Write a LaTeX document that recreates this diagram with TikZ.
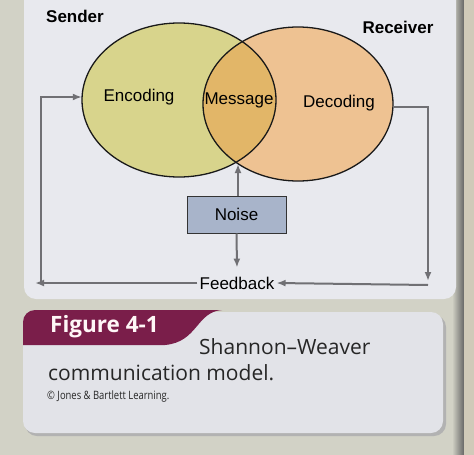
\documentclass[tikz,border=0pt]{standalone}
\usepackage{fontspec}
\setmainfont{Liberation Sans}
\newfontfamily\capfont{Open Sans}
\usetikzlibrary{shapes.geometric,positioning,arrows.meta}

\definecolor{sendfill}{RGB}{216,212,140}
\definecolor{recvfill}{RGB}{238,194,146}
\definecolor{msgfill}{RGB}{226,182,104}
\definecolor{noisefill}{RGB}{168,180,202}
\definecolor{arrowgray}{RGB}{112,112,116}
\definecolor{panelbg}{RGB}{232,233,238}
\definecolor{pagebg}{RGB}{210,210,198}
\definecolor{capbg}{RGB}{226,227,232}
\definecolor{tabred}{RGB}{122,30,74}

\tikzset{
  sendcirc/.style={ellipse,fill=sendfill,minimum width=194pt,minimum height=154pt,inner sep=0pt},
  recvcirc/.style={ellipse,fill=recvfill,minimum width=190pt,minimum height=154pt,inner sep=0pt},
  lbl/.style={font=\fontsize{17}{20}\selectfont},
  hdr/.style={font=\fontsize{17}{20}\selectfont\bfseries},
  loop/.style={draw=arrowgray,line width=2pt,->},
  outline/.style={draw=black!90,line width=1.3pt},
  capt/.style={font=\capfont\fontsize{21}{24}\selectfont,text=black!85,anchor=west,inner sep=0pt},
}

\begin{document}
\begin{tikzpicture}[>={Latex[length=9pt,width=7pt]},x=1pt,y=-1pt]
\useasboundingbox (0,0) rectangle (474,455);
% page and panel
\fill[pagebg] (0,0) rectangle (474,455);
\shade[left color=pagebg,right color=black!60] (452,0) rectangle (464,455);
\fill[pagebg!90!brown] (464,0) rectangle (474,455);
\fill[panelbg,rounded corners=12pt] (24,-12) rectangle (456,299);

% the two fields of experience
\node[sendcirc] (send) at (179,100) {};
\node[recvcirc] (recv) at (298,104) {};
\begin{scope}
  \clip (179,100) ellipse [x radius=97,y radius=77];
  \fill[msgfill] (298,104) ellipse [x radius=95,y radius=77];
\end{scope}
\draw[outline] (179,100) ellipse [x radius=97,y radius=77];
\draw[outline] (298,104) ellipse [x radius=95,y radius=77];

\node[hdr] (sender) at (75,16) {Sender};
\node[hdr] (receiver) at (398,27) {Receiver};
\node[lbl] (enc) at (139,97) {Encoding};
\node[lbl] (msg) at (239,100) {Message};
\node[lbl] (dec) at (339,103) {Decoding};

\node[lbl,draw=black!80,line width=1pt,fill=noisefill,minimum width=99pt,minimum height=37pt] (noise) at (236.5,214.5) {Noise};
\node[lbl,inner sep=2pt] (fb) at (237,283) {Feedback};

\coordinate (bot) at (238,164);
\coordinate (fbl) at (41,284);
\coordinate (encl) at (41,97);
\coordinate (decr) at (428,107);
\coordinate (fbr) at (428,285);

% connectors
\draw[loop] (noise.north -| bot) -- (bot);
\draw[loop] (noise.south) -- ([yshift=7pt]fb.north);
\draw[loop] (fb.west) -- (35,283);
\draw[loop] (fbl) -- (encl) -- (encl -| send.west);
\draw[loop] (recv.east |- decr) -- (decr) -- ([yshift=4pt]fbr);
\draw[loop] (fbr) -- (fb.east);

% caption box
\fill[black!30,rounded corners=12pt] (25,315) rectangle (446,436);
\fill[capbg,rounded corners=12pt] (23,312) rectangle (443,433);
\fill[tabred] (23,345) -- (23,322) arc[start angle=180,end angle=270,radius=12] -- (222,310)
  .. controls (196,312) and (198,342) .. (165,345) -- cycle;
\node[capt,font=\capfont\bfseries\fontsize{22.5}{26}\selectfont,text=white!88!pink] (fig) at (50,327) {Figure 4-1};
\node[capt] (title1) at (199,347) {Shannon–Weaver};
\node[capt] (title2) at (48,373) {communication model.};
\node[capt,font=\capfont\fontsize{11.5}{14}\selectfont] (copy) at (47,397) {\scalebox{0.82}[1]{© Jones \& Bartlett Learning.}};
\end{tikzpicture}
\end{document}
